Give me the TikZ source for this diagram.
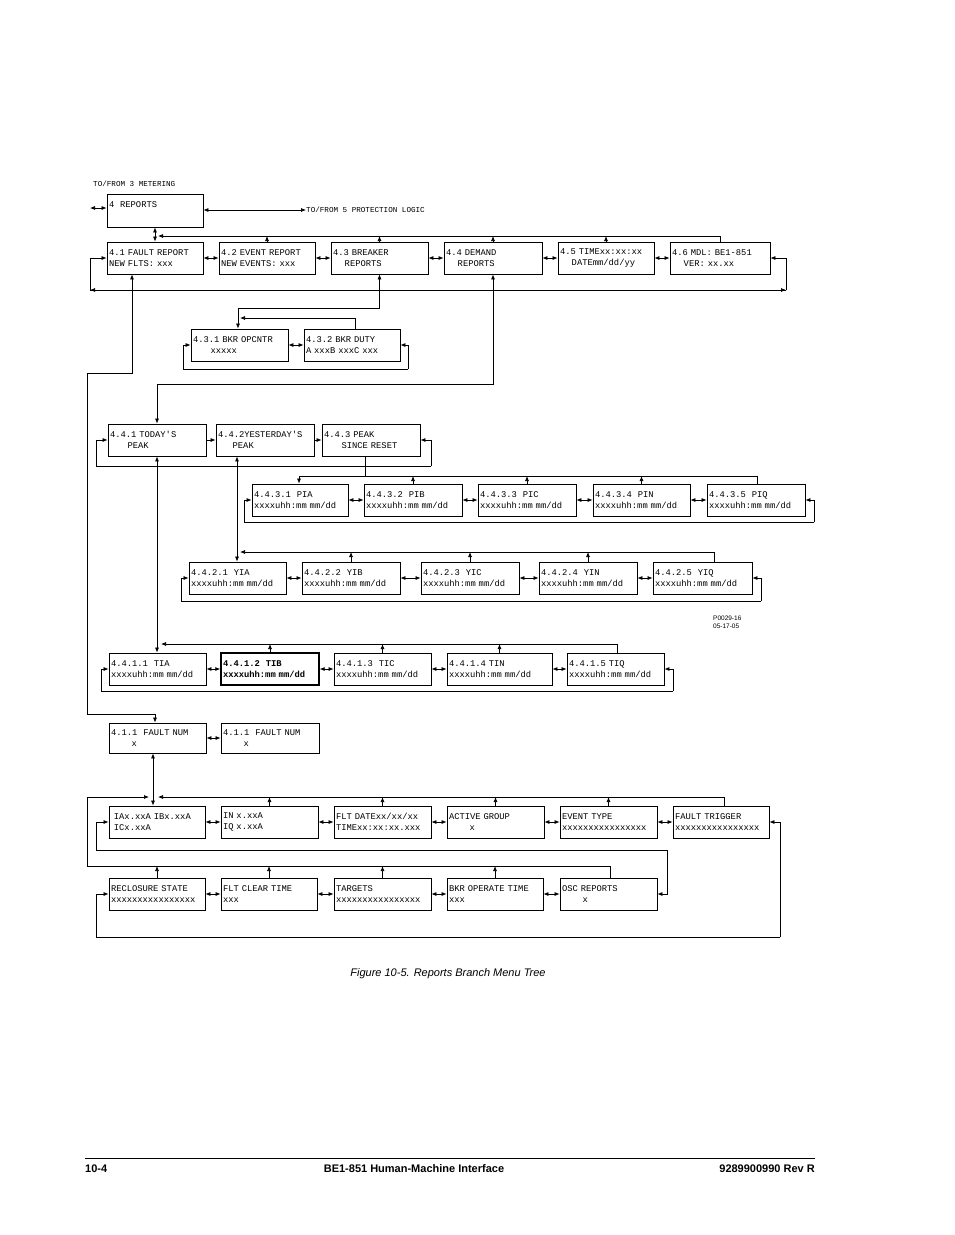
\documentclass[tikz,border=0pt]{standalone}
\usepackage{fontspec}
\setmainfont{Liberation Sans}
\newfontfamily\boxfont{Liberation Mono}
\usetikzlibrary{arrows.meta}
\newcommand\fixsp{\fontdimen2\font=0.6em\fontdimen3\font=0pt\fontdimen4\font=0pt}
\tikzset{
 bx/.style={draw,line width=0.8pt,inner xsep=2pt,inner ysep=0pt,align=left,font=\boxfont\fontsize{8.8}{11}\selectfont\fixsp},
 arr/.style={line width=0.7pt,-{Latex[length=5pt,width=4pt]}},
 darr/.style={line width=0.7pt,{Latex[length=5pt,width=4pt]}-{Latex[length=5pt,width=4pt]}},
 ln/.style={line width=0.7pt},
 lbl/.style={font=\boxfont\fontsize{7.6}{9}\selectfont\fixsp,inner sep=0pt},
}
\newcommand\bx[8][]{\node[bx,#1,minimum width={(#4-#2)*1pt},minimum height={(#5-#3)*1pt},text width={(#4-#2-4)*1pt}] (#8) at ({(#2+#4)/2},{(#3+#5)/2}) {#6\\#7};}
\newcommand\lrow[5]{\coordinate (#1lp) at (#3,#5);\coordinate (#1rp) at (#4,#5);
 \draw[arr] (#1lp) |- (#1.west); \draw[arr] (#1rp) |- (#2.east); \draw[ln] (#1lp) -- (#1rp);}
\begin{document}
\begin{tikzpicture}[x=1pt,y=-1pt]
\useasboundingbox (0,0) rectangle (954,1235);
% top
\bx{107}{194}{203}{227}{4~~REPORTS}{~}{r4}
\node[lbl,anchor=west] (tm) at (93,184) {TO/FROM 3 METERING};
\node[lbl,anchor=west] (tp) at (306,210) {TO/FROM 5 PROTECTION LOGIC};
\coordinate (lm) at (90,208);
\draw[darr] (lm) -- (lm -| r4.west);
\draw[darr] (r4.east |- tp) -- (tp.west);
% row 4.x
\bx{107}{242}{203}{274}{4.1 FAULT REPORT}{NEW FLTS: xxx}{a1}
\bx{219}{242}{315}{274}{4.2 EVENT REPORT}{NEW EVENTS: xxx}{a2}
\bx{331}{242}{428}{274}{4.3 BREAKER}{~~~~REPORTS}{a3}
\bx{444}{242}{542}{274}{4.4 DEMAND}{~~~~REPORTS}{a4}
\bx{558}{242}{654}{274}{4.5 TIMExx:xx:xx}{~~~~DATEmm/dd/yy}{a5}
\bx{670}{242}{770}{274}{4.6 MDL: BE1-851}{~~~~VER: xx.xx}{a6}
\foreach \p/\q in {a1/a2,a2/a3,a3/a4,a4/a5,a5/a6} \draw[darr] (\p.east) -- (\q.west);
\draw[darr] (r4.south) -- (a1.north);
\coordinate (tb) at (158,236);
\draw[arr] (a6.north) |- (tb);
\foreach \p in {a2,a3,a4,a5} \draw[arr] (\p.north) -- (\p.north |- tb);
\lrow{a1}{a6}{90}{786}{290}
\draw[darr] (a1lp) -- (a1rp);
% 4.3 children
\bx{191}{329}{288}{361}{4.3.1 BKR OPCNTR}{~~~~~~xxxxx}{b1}
\bx{304}{329}{400}{361}{4.3.2 BKR DUTY}{A xxxB xxxC xxx}{b2}
\coordinate (b3a) at (238,308); \coordinate (b3b) at (355,318); \coordinate (b3c) at (240,318);
\draw[darr] (a3.south) |- (b3a) -- (b1.north -| b3a);
\draw[arr] (b2.north -| b3b) -- (b3b) -- (b3c);
\draw[darr] (b1.east) -- (b2.west);
\lrow{b1}{b2}{183}{408}{369}
% 4.4 children
\bx{108}{424}{206}{456}{4.4.1 TODAY'S}{~~~~~~PEAK}{c1}
\bx{216}{424}{314}{456}{4.4.2YESTERDAY'S}{~~~~~PEAK}{c2}
\bx{322}{424}{420}{456}{4.4.3 PEAK}{~~~~~~SINCE RESET}{c3}
\draw[arr] (c1.east) -- (c2.west);
\draw[arr] (c2.east) -- (c3.west);
\coordinate (cl) at (96,466); \coordinate (cr) at (431,466);
\draw[arr] (cl) |- (c1.west);
\draw[ln] (cl) -- (cr);
\draw[arr] (cr) |- (c3.east);
\coordinate (c4) at (157,384);
\draw[darr] (a4.south) |- (c4) -- (c1.north);
% 4.4.3.x
\bx{252}{484}{348}{516}{4.4.3.1~~PIA}{xxxxuhh:mm mm/dd}{d1}
\bx{364}{484}{462}{516}{4.4.3.2~~PIB}{xxxxuhh:mm mm/dd}{d2}
\bx{478}{484}{576}{516}{4.4.3.3~~PIC}{xxxxuhh:mm mm/dd}{d3}
\bx{593}{484}{690}{516}{4.4.3.4~~PIN}{xxxxuhh:mm mm/dd}{d4}
\bx{707}{484}{805}{516}{4.4.3.5~~PIQ}{xxxxuhh:mm mm/dd}{d5}
\foreach \p/\q in {d1/d2,d2/d3,d3/d4,d4/d5} \draw[darr] (\p.east) -- (\q.west);
\coordinate (db) at (299,476); \coordinate (dr) at (757,476); \coordinate (dm) at (365,476);
\draw[arr] (d5.north -| dr) -- (dr) -- (db) -- (d1.north -| db);
\draw[ln] (c3.south -| dm) -- (dm);
\foreach \p in {d2,d3,d4} \draw[arr] (\p.north) -- (\p.north |- db);
\lrow{d1}{d5}{244}{814}{522}
% 4.4.2.x
\bx{189}{562}{286}{594}{4.4.2.1~~YIA}{xxxxuhh:mm mm/dd}{e1}
\bx{302}{562}{400}{594}{4.4.2.2~~YIB}{xxxxuhh:mm mm/dd}{e2}
\bx{421}{562}{519}{594}{4.4.2.3~~YIC}{xxxxuhh:mm mm/dd}{e3}
\bx{539}{562}{637}{594}{4.4.2.4~~YIN}{xxxxuhh:mm mm/dd}{e4}
\bx{653}{562}{752}{594}{4.4.2.5~~YIQ}{xxxxuhh:mm mm/dd}{e5}
\foreach \p/\q in {e1/e2,e2/e3,e3/e4,e4/e5} \draw[darr] (\p.east) -- (\q.west);
\coordinate (eb) at (240,552); \coordinate (ex) at (237,552); \coordinate (er) at (714,552);
\draw[darr] (c2.south -| ex) -- (e1.north -| ex);
\draw[arr] (e5.north -| er) -- (er) -- (eb);
\foreach \p in {e2,e3,e4} \draw[arr] (\p.north) -- (\p.north |- eb);
\lrow{e1}{e5}{181}{761}{601}
% 4.4.1.x
\bx{109}{653}{206}{685}{4.4.1.1~~TIA}{xxxxuhh:mm mm/dd}{f1}
\bx[line width=1.4pt]{221}{653}{319}{685}{\textbf{4.4.1.2~~TIB}}{\textbf{xxxxuhh:mm mm/dd}}{f2}
\bx{334}{653}{431}{685}{4.4.1.3~~TIC}{xxxxuhh:mm mm/dd}{f3}
\bx{447}{653}{552}{685}{4.4.1.4 TIN}{xxxxuhh:mm mm/dd}{f4}
\bx{567}{653}{664}{685}{4.4.1.5 TIQ}{xxxxuhh:mm mm/dd}{f5}
\foreach \p/\q in {f1/f2,f2/f3,f3/f4,f4/f5} \draw[darr] (\p.east) -- (\q.west);
\coordinate (fb) at (161,644); \coordinate (fr) at (617,644);
\draw[darr] (c1.south) -- (f1.north -| c1.south);
\draw[arr] (f5.north -| fr) -- (fr) -- (fb);
\foreach \p in {f2,f3,f4} \draw[arr] (\p.north) -- (\p.north |- fb);
\lrow{f1}{f5}{101}{673}{691}
% 4.1.1
\bx{109}{723}{206}{753}{4.1.1~~FAULT NUM}{~~~~~~~x}{g1}
\bx{221}{723}{319}{753}{4.1.1~~FAULT NUM}{~~~~~~~x}{g2}
\draw[darr] (g1.east) -- (g2.west);
\coordinate (g3a) at (132,373); \coordinate (g3b) at (87,373); \coordinate (g3c) at (87,714); \coordinate (g3d) at (155,714);
\draw[darr] (a1.south -| g3a) -- (g3a) -- (g3b) -- (g3c) -- (g3d) -- (g1.north -| g3d);
% fault detail
\bx{109}{806}{205}{838}{~IAx.xxA IBx.xxA}{~ICx.xxA}{h1}
\bx{221}{806}{318}{838}{IN x.xxA}{IQ x.xxA}{h2}
\bx{334}{806}{431}{838}{FLT DATExx/xx/xx}{TIMExx:xx:xx.xxx}{h3}
\bx{447}{806}{544}{838}{ACTIVE GROUP}{~~~~~~~x}{h4}
\bx{560}{806}{657}{838}{EVENT TYPE}{xxxxxxxxxxxxxxxx}{h5}
\bx{673}{806}{769}{838}{FAULT TRIGGER}{xxxxxxxxxxxxxxxx}{h6}
\foreach \p/\q in {h1/h2,h2/h3,h3/h4,h4/h5,h5/h6} \draw[darr] (\p.east) -- (\q.west);
\coordinate (hx) at (153,797);
\draw[darr] (g1.south -| hx) -- (h1.north -| hx);
\coordinate (hb) at (158,797); \coordinate (hr6) at (724,797);
\draw[arr] (h6.north -| hr6) -- (hr6) -- (hb);
\foreach \p in {h2,h3,h4,h5} \draw[arr] (\p.north) -- (\p.north |- hb);
\bx{109}{878}{205}{910}{RECLOSURE STATE}{xxxxxxxxxxxxxxxx}{i1}
\bx{221}{878}{317}{910}{FLT CLEAR TIME}{xxx}{i2}
\bx{334}{878}{431}{910}{TARGETS}{xxxxxxxxxxxxxxxx}{i3}
\bx{447}{878}{543}{910}{BKR OPERATE TIME}{xxx}{i4}
\bx{560}{878}{657}{910}{OSC REPORTS}{~~~~~~~x}{i5}
\foreach \p/\q in {i1/i2,i2/i3,i3/i4,i4/i5} \draw[darr] (\p.east) -- (\q.west);
\coordinate (ib) at (87,866); \coordinate (ir5) at (610,866); \coordinate (iu) at (87,797); \coordinate (ie) at (149,797);
\draw[arr] (i5.north -| ir5) -- (ir5) -- (ib) -- (iu) -- (ie);
\foreach \p in {i1,i2,i3,i4} \draw[arr] (\p.north) -- (\p.north |- ib);
\coordinate (hl) at (96,850); \coordinate (hr) at (667,850);
\draw[arr] (hl) |- (h1.west); \draw[ln] (hl) -- (hr); \draw[arr] (hr) |- (i5.east);
\coordinate (il) at (96,937); \coordinate (ir) at (780,937);
\draw[arr] (il) |- (i1.west); \draw[ln] (il) -- (ir); \draw[arr] (ir) |- (h6.east);
% labels
\node[font=\fontsize{6.5}{7.5}\selectfont,align=left,anchor=north west,inner sep=0pt] (pn) at (713,616) {P0029-16\\05-17-05};
\node[font=\itshape\fontsize{11}{13}\selectfont] (cap) at (448,974) {Figure 10-5. Reports Branch Menu Tree};
\coordinate (fl) at (85,1158); \coordinate (flr) at (815,1158);
\draw[line width=0.6pt] (fl) -- (flr);
\node[font=\bfseries\fontsize{11}{13}\selectfont,anchor=west,inner sep=0pt] (f1t) at (85,1169) {10-4};
\node[font=\bfseries\fontsize{11}{13}\selectfont,inner sep=0pt] (f2t) at (414,1169) {BE1-851 Human-Machine Interface};
\node[font=\bfseries\fontsize{11}{13}\selectfont,anchor=east,inner sep=0pt] (f3t) at (815,1169) {9289900990 Rev R};
\end{tikzpicture}
\end{document}
